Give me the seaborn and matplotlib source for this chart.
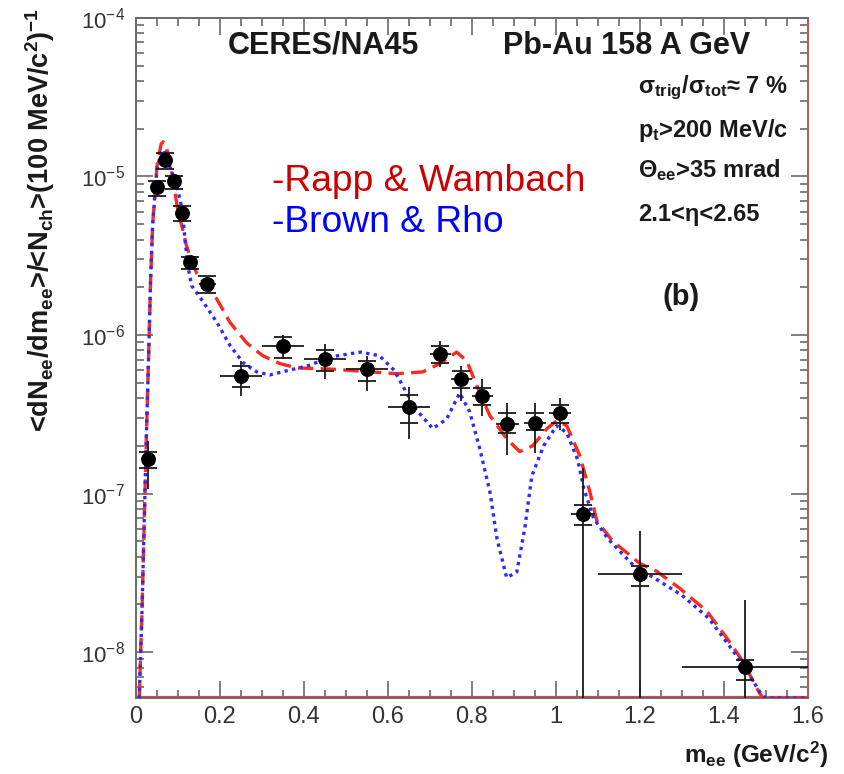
import numpy as np
import pandas as pd
import matplotlib
matplotlib.use("Agg")
import matplotlib.pyplot as plt
import seaborn as sns
from matplotlib.ticker import LogLocator, MultipleLocator, LogFormatterMathtext, NullFormatter

# ---------------- data ----------------
# CERES/NA45 data points
pt_x = [0.03, 0.05, 0.07, 0.09, 0.11, 0.13, 0.17, 0.25, 0.35, 0.45, 0.55, 0.65,
        0.725, 0.775, 0.825, 0.885, 0.95, 1.01, 1.065, 1.20, 1.45]
pt_y = [1.66e-7, 8.6e-6, 1.26e-5, 9.4e-6, 5.9e-6, 2.9e-6, 2.1e-6, 5.5e-7, 8.5e-7, 7.1e-7,
        6.1e-7, 3.5e-7, 7.6e-7, 5.3e-7, 4.1e-7, 2.75e-7, 2.8e-7, 3.2e-7, 7.4e-8, 3.1e-8, 8.1e-9]
pt_xerr = [0.01, 0.01, 0.01, 0.01, 0.01, 0.01, 0.02, 0.05, 0.05, 0.05, 0.05, 0.05,
           0.025, 0.025, 0.025, 0.028, 0.026, 0.027, 0.028, 0.10, 0.15]
# statistical error band (low, high)
stat_lo = [1.07e-7, 8.0e-6, 1.18e-5, 8.8e-6, 5.5e-6, 2.7e-6, 1.9e-6, 4.13e-7, 7.1e-7, 5.3e-7,
           4.45e-7, 2.2e-7, 6.25e-7, 3.86e-7, 3.1e-7, 1.75e-7, 1.8e-7, 2.5e-7, 1e-10, 1e-10, 1e-10]
stat_hi = [2.15e-7, 9.2e-6, 1.34e-5, 1.0e-5, 6.3e-6, 3.1e-6, 2.3e-6, 6.86e-7, 1.0e-6, 8.8e-7,
           7.4e-7, 4.7e-7, 9.2e-7, 6.4e-7, 5.3e-7, 3.7e-7, 3.7e-7, 4.0e-7, 1.44e-7, 5.85e-8, 2.14e-8]
# systematic error (low, high)
sys_lo = [1.46e-7, 7.5e-6, 1.12e-5, 8.3e-6, 5.2e-6, 2.6e-6, 1.85e-6, 4.7e-7, 7.2e-7, 5.9e-7,
          5.1e-7, 2.8e-7, 6.7e-7, 4.6e-7, 3.6e-7, 2.4e-7, 2.5e-7, 2.8e-7, 6.3e-8, 2.6e-8, 6.7e-9]
sys_hi = [1.84e-7, 9.3e-6, 1.40e-5, 1.0e-5, 6.5e-6, 3.1e-6, 2.35e-6, 6.4e-7, 9.7e-7, 8.1e-7,
          6.86e-7, 4.2e-7, 8.5e-7, 5.9e-7, 4.65e-7, 3.2e-7, 3.2e-7, 3.6e-7, 8.5e-8, 3.5e-8, 8.9e-9]

# Rapp & Wambach calculation
rw_x = [0.008, 0.015, 0.020, 0.025, 0.030, 0.035, 0.040, 0.050, 0.060, 0.065, 0.070, 0.080,
        0.090, 0.100, 0.110, 0.120, 0.129, 0.145, 0.169, 0.193, 0.224, 0.264, 0.302, 0.343,
        0.383, 0.462, 0.540, 0.621, 0.683, 0.724, 0.764, 0.788, 0.812, 0.843, 0.883, 0.914,
        0.945, 0.979, 1.002, 1.026, 1.057, 1.081, 1.098, 1.136, 1.200, 1.240, 1.295, 1.360,
        1.407, 1.445, 1.479, 1.493, 1.600]
rw_y = [5.1e-9, 2.0e-8, 6.9e-8, 2.3e-7, 6.9e-7, 2.2e-6, 5.0e-6, 1.15e-5, 1.6e-5, 1.65e-5,
        1.6e-5, 1.29e-5, 8.9e-6, 6.1e-6, 4.8e-6, 3.7e-6, 3.1e-6, 2.45e-6, 2.02e-6, 1.68e-6,
        1.2e-6, 8.9e-7, 7.4e-7, 6.6e-7, 6.2e-7, 6.1e-7, 5.9e-7, 5.7e-7, 5.85e-7, 6.6e-7,
        7.8e-7, 6.86e-7, 4.78e-7, 3.1e-7, 2.22e-7, 1.84e-7, 2.0e-7, 2.57e-7, 2.88e-7, 2.68e-7,
        1.74e-7, 1.03e-7, 6.7e-8, 5.0e-8, 3.63e-8, 3.24e-8, 2.53e-8, 1.81e-8, 1.23e-8, 8.8e-9,
        5.9e-9, 5.13e-9, 5.13e-9]

# Brown & Rho calculation
br_x = [0.008, 0.015, 0.020, 0.025, 0.030, 0.035, 0.040, 0.050, 0.060, 0.067, 0.081, 0.098,
        0.110, 0.117, 0.124, 0.133, 0.160, 0.193, 0.224, 0.255, 0.288, 0.319, 0.348, 0.410,
        0.467, 0.535, 0.580, 0.615, 0.645, 0.660, 0.707, 0.740, 0.771, 0.795, 0.819, 0.843,
        0.860, 0.883, 0.907, 0.926, 0.943, 0.971, 1.002, 1.026, 1.052, 1.067, 1.090, 1.124,
        1.186, 1.236, 1.300, 1.364, 1.412, 1.452, 1.486, 1.500, 1.600]
br_y = [5.1e-9, 2.0e-8, 6.9e-8, 2.3e-7, 6.9e-7, 2.2e-6, 5.0e-6, 1.1e-5, 1.42e-5, 1.47e-5,
        1.15e-5, 8.7e-6, 6.2e-6, 4.0e-6, 2.7e-6, 2.04e-6, 1.62e-6, 1.2e-6, 8.6e-7, 6.7e-7,
        5.85e-7, 5.6e-7, 5.85e-7, 6.4e-7, 7.3e-7, 7.8e-7, 7.4e-7, 6.0e-7, 4.3e-7, 3.57e-7,
        2.57e-7, 2.95e-7, 4.3e-7, 3.28e-7, 1.92e-7, 1.03e-7, 5.2e-8, 2.95e-8, 3.2e-8, 6.0e-8,
        1.29e-7, 2.0e-7, 2.68e-7, 2.42e-7, 1.64e-7, 1.07e-7, 7.0e-8, 5.2e-8, 3.5e-8, 2.92e-8,
        2.29e-8, 1.64e-8, 1.11e-8, 7.9e-9, 5.6e-9, 5.13e-9, 5.13e-9]

y_min, y_max = 5.13e-9, 1e-4
x_ticks = [0, 0.2, 0.4, 0.6, 0.8, 1.0, 1.2, 1.4, 1.6]
x_tick_labels = ["0", "0.2", "0.4", "0.6", "0.8", "1", "1.2", "1.4", "1.6"]

# ---------------- style ----------------
sns.set_theme(style="ticks")
plt.rcParams['font.family'] = ['Liberation Sans', 'DejaVu Sans']
plt.rcParams['mathtext.fontset'] = 'custom'
plt.rcParams['mathtext.rm'] = 'Liberation Sans'
plt.rcParams['mathtext.it'] = 'Liberation Sans:italic'
plt.rcParams['mathtext.bf'] = 'Liberation Sans:bold'

fig = plt.figure(figsize=(8.44, 7.74), dpi=100)
ax = fig.add_axes([0.161, 0.098, 0.796, 0.879])

rw = pd.DataFrame({"m": rw_x, "y": rw_y})
br = pd.DataFrame({"m": br_x, "y": br_y})
pts = pd.DataFrame({"m": pt_x, "y": pt_y})

sns.lineplot(data=rw, x="m", y="y", ax=ax, color="#ff2a1a", lw=2.4, sort=False,
             estimator=None, linestyle=(0, (4.6, 2.2)), zorder=3)
sns.lineplot(data=br, x="m", y="y", ax=ax, color="#2a2aff", lw=2.4, sort=False,
             estimator=None, linestyle=(0, (1.0, 1.3)), zorder=3)

py = np.array(pt_y)
stat_err = [py - np.array(stat_lo), np.array(stat_hi) - py]
sys_err = [py - np.array(sys_lo), np.array(sys_hi) - py]
ax.errorbar(pt_x, pt_y, yerr=stat_err, xerr=pt_xerr, fmt='none', ecolor='#1a1a1a',
            elinewidth=1.3, capsize=0, zorder=4)
ax.errorbar(pt_x, pt_y, yerr=sys_err, fmt='none', ecolor='#1a1a1a',
            elinewidth=0, capsize=6.5, capthick=1.3, zorder=4)
sns.scatterplot(data=pts, x="m", y="y", ax=ax, color="black", s=115, edgecolor="black",
                linewidth=0, zorder=5)

ax.set_yscale("log")
ax.set_xlim(0, 1.6)
ax.set_ylim(y_min, y_max)
ax.axhline(y_min * 1.012, color="#e04040", lw=1.6, zorder=2)

ax.set_xticks(x_ticks)
ax.set_xticklabels(x_tick_labels)
ax.xaxis.set_minor_locator(MultipleLocator(0.05))
ax.yaxis.set_major_locator(LogLocator(base=10, numticks=10))
ax.yaxis.set_major_formatter(LogFormatterMathtext())
ax.yaxis.set_minor_locator(LogLocator(base=10, subs=np.arange(2, 10), numticks=20))
ax.yaxis.set_minor_formatter(NullFormatter())

ax.tick_params(which='both', direction='in', top=True, right=True, color='#6a6a6a', width=1.2)
ax.tick_params(which='major', length=12)
ax.tick_params(which='minor', length=6)
ax.tick_params(axis='x', which='major', labelsize=17, labelcolor='#333333', pad=6)
ax.tick_params(axis='y', which='major', labelsize=16, labelcolor='#333333', pad=8)

for name, sp in ax.spines.items():
    sp.set_color('#6a6a6a')
    sp.set_linewidth(1.4)
ax.spines['right'].set_color('#c85050')

ax.set_xlabel("")
ax.set_ylabel(r'<dN$_{\mathbf{ee}}$/dm$_{\mathbf{ee}}$>/<N$_{\mathbf{ch}}$>(100 MeV/c$^{\mathbf{2}}$)$^{\mathbf{-1}}$',
              fontsize=19.5, fontweight='bold', color='#1a1a1a')
ax.yaxis.set_label_coords(-0.117, 0.703)

fig.text(0.981, 0.0245, r'm$_{\mathbf{ee}}$ (GeV/c$^{\mathbf{2}}$)', fontsize=17.5,
         fontweight='bold', ha='right', va='center', color='#1a1a1a')

# annotations
fig.text(0.270, 0.9406, "CERES/NA45", fontsize=22, fontweight='bold', va='center', color='#1a1a1a')
fig.text(0.596, 0.9406, "Pb-Au 158 A GeV", fontsize=22, fontweight='bold', va='center', color='#1a1a1a')
fig.text(0.756, 0.886, r'σ$_{\mathbf{trig}}$/σ$_{\mathbf{tot}}$≈ 7 %', fontsize=17,
         fontweight='bold', va='center', color='#1a1a1a')
fig.text(0.756, 0.832, r'p$_{\mathbf{t}}$>200 MeV/c', fontsize=17, fontweight='bold',
         va='center', color='#1a1a1a')
fig.text(0.756, 0.780, r'Θ$_{\mathbf{ee}}$>35 mrad', fontsize=17, fontweight='bold',
         va='center', color='#1a1a1a')
fig.text(0.756, 0.7235, '2.1<η<2.65', fontsize=17, fontweight='bold', va='center', color='#1a1a1a')
fig.text(0.807, 0.616, '(b)', fontsize=21, fontweight='bold', ha='center', va='center', color='#1a1a1a')
fig.text(0.322, 0.766, '-Rapp & Wambach', fontsize=26.8, color='#cc0000', va='center')
fig.text(0.322, 0.712, '-Brown & Rho', fontsize=26.8, color='#0000ff', va='center')

fig.savefig("out.png", dpi=100)
